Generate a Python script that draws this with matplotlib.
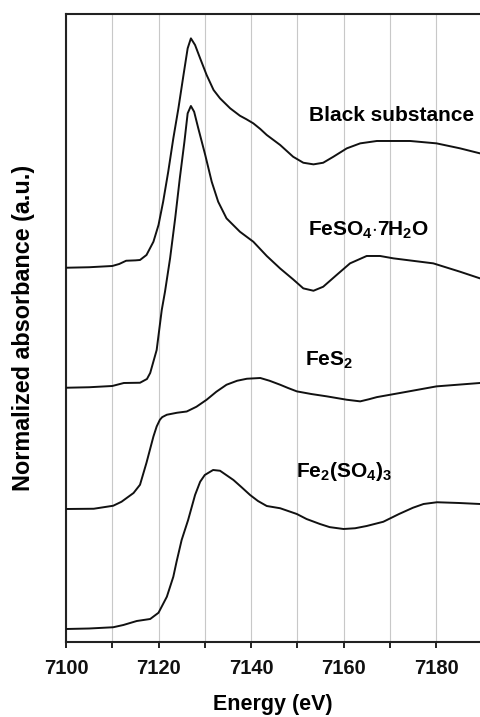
import numpy as np
import matplotlib
matplotlib.use('Agg')
import matplotlib.pyplot as plt
from matplotlib.ticker import MultipleLocator

plt.rcParams['font.family'] = 'Liberation Sans'
plt.rcParams['font.weight'] = 'bold'
plt.rcParams['mathtext.fontset'] = 'custom'
plt.rcParams['mathtext.rm'] = 'Liberation Sans:bold'
plt.rcParams['mathtext.it'] = 'Liberation Sans:bold'
plt.rcParams['mathtext.bf'] = 'Liberation Sans:bold'

# spectra (normalized), energy in eV
e_black = [7100, 7105, 7110, 7111.5, 7113, 7115, 7116, 7117.4, 7118.9, 7120, 7121, 7122.1,
           7123.2, 7124.3, 7125.4, 7126.3, 7127, 7127.9, 7129, 7130.4, 7131.9, 7133.3,
           7135.5, 7137.6, 7139, 7140.5, 7142, 7143.4, 7146.3, 7149.1, 7151.3, 7153.5,
           7155.6, 7157.8, 7160.7, 7163.6, 7167.2, 7174.4, 7180.1, 7185.2, 7189.5]
a_black = [0.0, 0.004, 0.014, 0.03, 0.056, 0.059, 0.062, 0.102, 0.208, 0.342, 0.528, 0.768,
           1.035, 1.275, 1.542, 1.755, 1.835, 1.782, 1.675, 1.542, 1.422, 1.355,
           1.275, 1.216, 1.188, 1.155, 1.11, 1.062, 0.982, 0.888, 0.84, 0.827,
           0.84, 0.888, 0.955, 0.995, 1.014, 1.014, 0.995, 0.955, 0.915]

e_feso4 = [7100, 7105, 7110, 7112.5, 7116, 7117.5, 7118.2, 7119.6, 7120.7, 7121.4, 7122.5,
           7123.6, 7124.6, 7125.6, 7126.3, 7127, 7127.7, 7128.6, 7130.1, 7131.5, 7132.9,
           7134.7, 7137.6, 7140.5, 7143.4, 7146.3, 7149.1, 7151.3, 7153.5, 7155.6, 7158.5,
           7161.4, 7165, 7167.9, 7170.8, 7179.4, 7185.2, 7189.5]
a_feso4 = [0.0, 0.004, 0.014, 0.038, 0.04, 0.07, 0.118, 0.302, 0.622, 0.768, 1.035,
           1.355, 1.675, 1.968, 2.195, 2.254, 2.208, 2.075, 1.862, 1.648, 1.488,
           1.355, 1.248, 1.168, 1.054, 0.954, 0.867, 0.795, 0.776, 0.808, 0.902,
           0.995, 1.054, 1.054, 1.035, 0.995, 0.928, 0.875]

e_fes2 = [7100, 7106, 7110.2, 7112, 7114.6, 7116, 7117.4, 7118.9, 7119.6, 7120.3, 7120.8,
          7121.8, 7124, 7126.1, 7128.2, 7130.4, 7132.5, 7134.7, 7137, 7139.1, 7142, 7144,
          7146.3, 7148, 7149.9, 7153, 7156.4, 7160.7, 7163.6, 7165.5, 7167.2, 7172.2,
          7180.1, 7189.5]
a_fes2 = [0.0, 0.002, 0.026, 0.058, 0.128, 0.194, 0.37, 0.58, 0.66, 0.714, 0.735,
          0.754, 0.77, 0.78, 0.818, 0.874, 0.938, 0.994, 1.026, 1.042, 1.048, 1.026,
          0.994, 0.968, 0.941, 0.92, 0.901, 0.874, 0.861, 0.878, 0.895, 0.928,
          0.981, 1.008]

e_fe2so43 = [7100, 7105, 7110.2, 7112.4, 7115.3, 7118.2, 7120, 7121.8, 7123.2, 7123.9, 7125,
             7126.4, 7127.9, 7129, 7130, 7131.8, 7133.3, 7136.2, 7137.9, 7139.8, 7141.5,
             7143.4, 7146.3, 7149.9, 7152, 7154.9, 7157, 7160, 7162.5, 7165, 7168.6,
             7172, 7175, 7177.3, 7180.2, 7185, 7189.5]
a_fe2so43 = [0.0, 0.004, 0.014, 0.032, 0.064, 0.08, 0.13, 0.258, 0.418, 0.538, 0.712,
             0.872, 1.072, 1.178, 1.232, 1.272, 1.266, 1.192, 1.136, 1.072, 1.024,
             0.984, 0.966, 0.92, 0.88, 0.84, 0.815, 0.8, 0.806, 0.824, 0.858,
             0.92, 0.97, 1.0, 1.014, 1.008, 1.0]

offsets = [2.89, 1.93, 0.96, 0.0]

fig = plt.figure(figsize=(4.8, 7.17), dpi=100)
ax = fig.add_axes([0.1375, 0.1046, 0.8625, 0.8759])

series = [(e_black, a_black), (e_feso4, a_feso4), (e_fes2, a_fes2), (e_fe2so43, a_fe2so43)]
for (e, a), off in zip(series, offsets):
    ax.plot(e, np.array(a) + off, color='#111111', lw=1.4,
            solid_joinstyle='round', solid_capstyle='round', zorder=3)

ax.set_xlim(7100, 7189.5)
ax.set_ylim(-0.104, 4.92)

ax.xaxis.set_major_locator(MultipleLocator(20))
ax.xaxis.set_minor_locator(MultipleLocator(10))
ax.grid(True, which='both', axis='x', color='#c8c8c8', lw=0.8, zorder=0)
ax.set_yticks([])
ax.tick_params(axis='x', which='both', direction='out', length=4.5, width=1.3, colors='#111111')
ax.tick_params(axis='x', which='major', labelsize=14.5, pad=8)
ax.spines['right'].set_visible(False)
for s in ['left', 'bottom', 'top']:
    ax.spines[s].set_linewidth(1.5)
    ax.spines[s].set_color('#222222')

ax.set_xlabel('Energy (eV)', fontsize=15.5, fontweight='bold', labelpad=11)
ax.set_ylabel('Normalized absorbance (a.u.)', fontsize=16.8, fontweight='bold', labelpad=22)

ax.text(7152.5, 4.11, 'Black substance', fontsize=15, fontweight='bold', va='center', ha='left')
ax.text(7152.3, 3.19, r'FeSO$_4$$\cdot$7H$_2$O', fontsize=15, fontweight='bold', va='center', ha='left')
ax.text(7151.6, 2.15, r'FeS$_2$', fontsize=15, fontweight='bold', va='center', ha='left')
ax.text(7149.8, 1.26, r'Fe$_2$(SO$_4$)$_3$', fontsize=15, fontweight='bold', va='center', ha='left')

fig.savefig('out.png', dpi=100)
